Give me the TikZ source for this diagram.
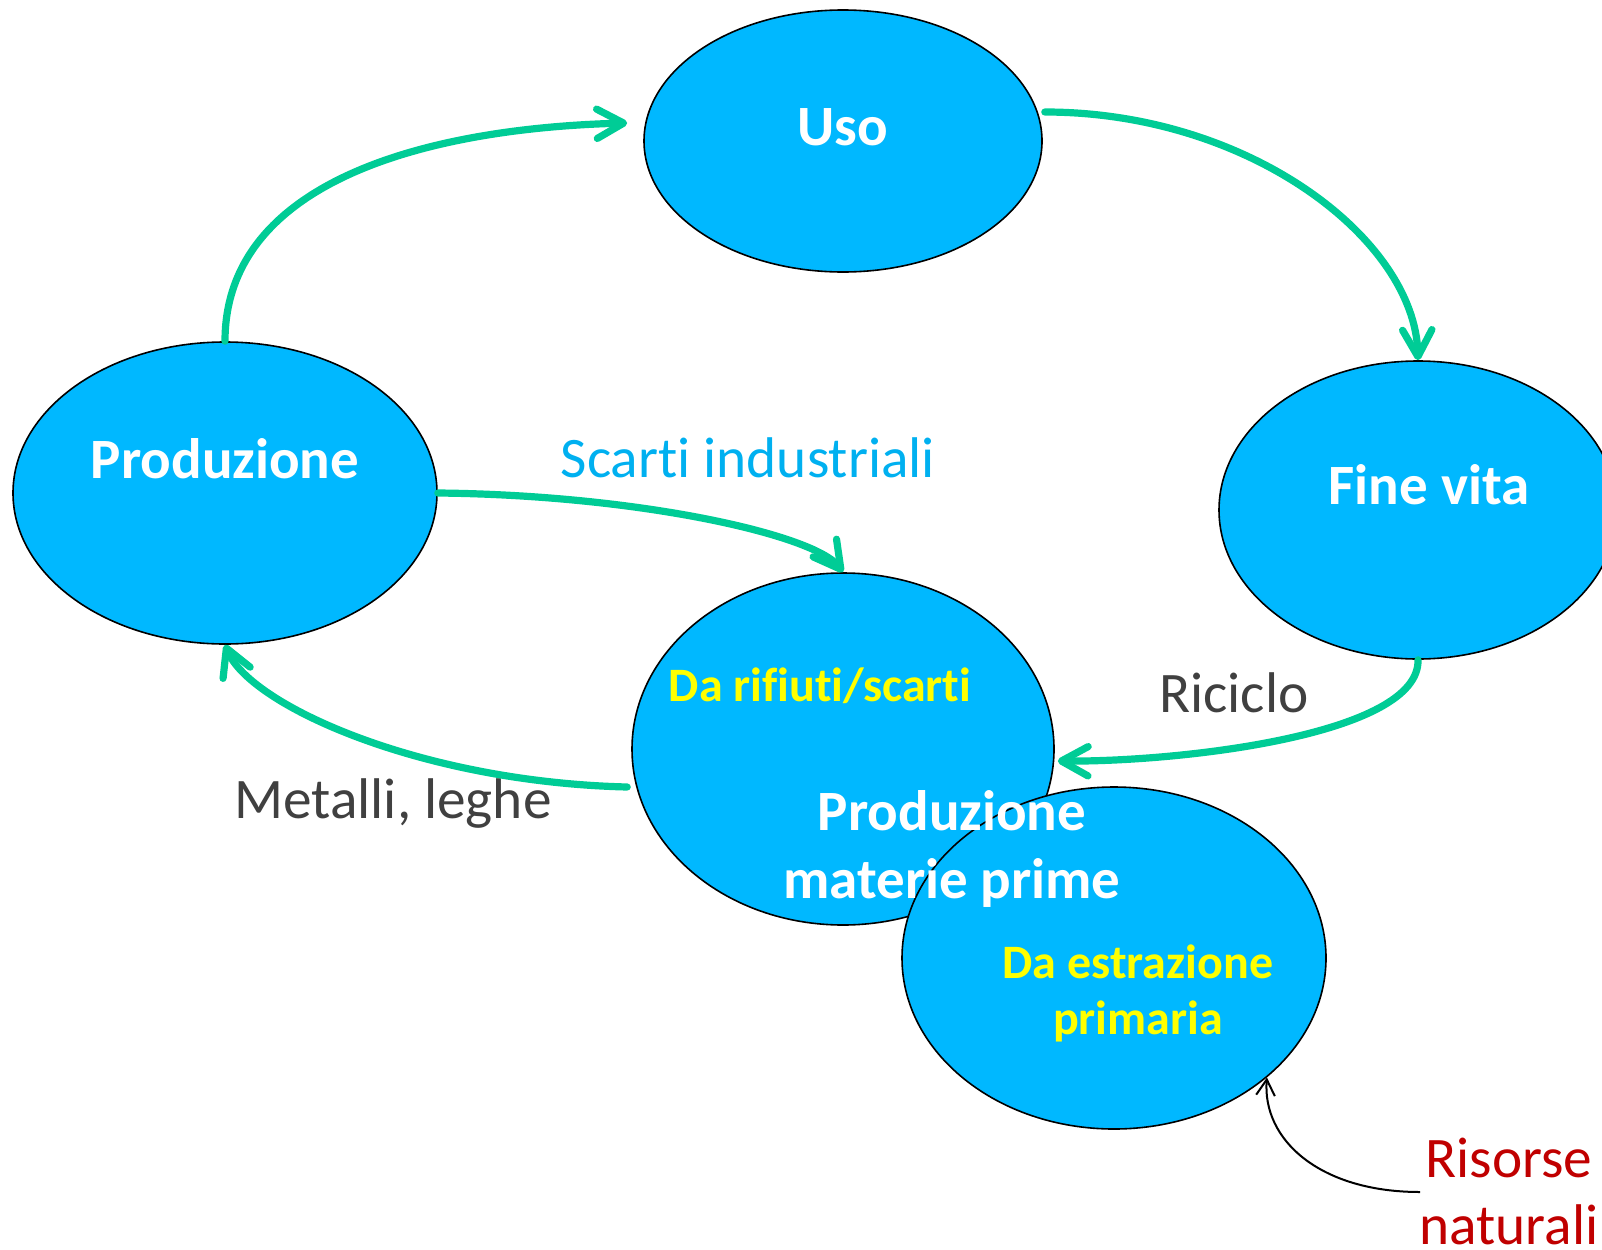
\documentclass[tikz,border=0pt]{standalone}
\usepackage{fontspec}
\setmainfont[Ligatures=NoCommon]{Carlito}
\usetikzlibrary{shapes.geometric,arrows.meta}
\definecolor{blobfill}{RGB}{0,184,255}
\definecolor{flowgreen}{RGB}{0,204,150}
\definecolor{labgray}{RGB}{64,64,64}
\definecolor{labred}{RGB}{192,0,0}
\definecolor{labblue}{RGB}{0,176,240}
\definecolor{labyellow}{RGB}{255,255,0}
\begin{document}
\begin{tikzpicture}[x=0.75pt,y=-0.75pt,
  blob/.style={ellipse,draw=black,line width=1.2pt,fill=blobfill,inner sep=0pt},
  mainlab/.style={text=white,font=\fontsize{42.75}{51}\selectfont\bfseries,inner sep=0pt,anchor=base},
  sublab/.style={text=labyellow,font=\fontsize{36}{43}\selectfont\bfseries,inner sep=0pt,anchor=base},
  flowlab/.style={font=\fontsize{43}{50}\selectfont,inner sep=0pt,anchor=base},
  flow/.style={draw=flowgreen,line width=5.4pt,line cap=round,line join=round,
    -{Straight Barb[round,length=20pt,width=22pt]}},
  thinflow/.style={draw=black,line width=1.5pt,-{Straight Barb[length=12pt,width=14pt]}}]
\useasboundingbox (0,0) rectangle (1602,1249);
\clip (0,0) rectangle (1602,1249);

% ellipses
\node[blob,minimum width=298.5pt,minimum height=196.5pt] (uso) at (843,141) {};
\node[blob,minimum width=318pt,minimum height=226.5pt] (prod) at (225,493) {};
\node[blob,minimum width=298.5pt,minimum height=223.5pt] (fin) at (1418,510) {};
\node[blob,minimum width=316.5pt,minimum height=264pt] (mat) at (843,749) {};
\node[blob,minimum width=318pt,minimum height=256.5pt] (est) at (1114,958) {};

% ellipse labels
\node[mainlab] (usot) at (843,145) {Uso};
\node[mainlab] (prodt) at (225,478) {Produzione};
\node[mainlab] (fint) at (1429,504) {Fine vita};
\node[sublab] (matsub) at (820,701) {Da rifiuti/scarti};
\node[sublab] (estsub1) at (1138,978) {Da estrazione};
\node[sublab] (estsub2) at (1138,1034) {primaria};
\node[mainlab] (matt1) at (952,830) {Produzione};
\node[mainlab] (matt2) at (952,898) {materie prime};

% flow labels
\node[flowlab,text=labblue] (scarti) at (748,477) {Scarti industriali};
\node[flowlab,text=labgray] (ricic) at (1234,712) {Riciclo};
\node[flowlab,text=labgray] (metal) at (393,818) {Metalli, leghe};
\node[flowlab,text=labred] (ris1) at (1509,1177) {Risorse};
\node[flowlab,text=labred] (ris2) at (1509,1244) {naturali};
\coordinate (risin) at (1420,1192);

% connectors
\draw[flow] (prod.north) .. controls (225,180) and (430,128) .. ([shift={(-16,-18)}]uso.west);
\draw[flow] ([shift={(2,-29)}]uso.east) .. controls (1250,112) and (1415,240) .. (fin.north);
\draw[flow] (prod.east) .. controls (640,495) and (815,535) .. (mat.north);
\draw[flow] (fin.south) .. controls (1420,735) and (1180,762) .. ([shift={(3,12)}]mat.east);
\draw[flow] ([shift={(-4,38)}]mat.west) .. controls (420,782) and (250,705) .. (prod.south);
\draw[thinflow] (risin) .. controls (1320,1192) and (1262,1140) .. (est.-38.6);
\end{tikzpicture}
\end{document}
